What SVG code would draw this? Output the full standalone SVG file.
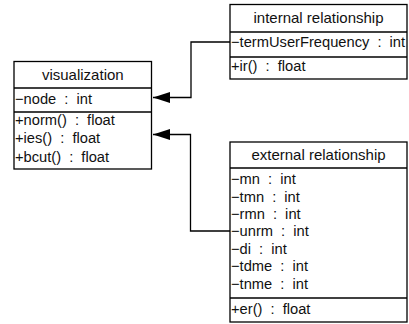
<svg xmlns="http://www.w3.org/2000/svg" width="409" height="324" viewBox="0 0 409 324">
<style>
.box{fill:#fff;stroke:#000;stroke-width:1.3}
.ln{stroke:#000;stroke-width:1.3;fill:none}
text{font-family:"Liberation Sans","Noto Sans CJK KR",sans-serif;font-size:14.7px;fill:#111;word-spacing:4px}
.t{font-size:15px;text-anchor:middle;word-spacing:0}
</style>
<defs>
<marker id="tri" markerWidth="18" markerHeight="12" refX="17" refY="6" orient="auto" markerUnits="userSpaceOnUse">
<path d="M0,0.5 L17,6 L0,11.5 Z" fill="#000"/>
</marker>
</defs>
<g id="connectors">
<path class="ln" d="M230,42 H191 V97.5 H153" marker-end="url(#tri)"/>
<path class="ln" d="M230,231 H190.5 V134.5 H153" marker-end="url(#tri)"/>
</g>
<g id="visualization">
<rect class="box" x="14" y="61.5" width="137.5" height="107.5"/>
<line class="ln" x1="14" y1="88" x2="151.5" y2="88"/>
<line class="ln" x1="14" y1="112" x2="151.5" y2="112"/>
<text class="t" x="82.8" y="80">visualization</text>
<text x="15" y="104">−node : int</text>
<text x="15" y="125">+norm() : float</text>
<text x="15" y="143">+ies() : float</text>
<text x="15" y="162">+bcut() : float</text>
</g>
<g id="internal">
<rect class="box" x="230" y="4.5" width="177" height="74.5"/>
<line class="ln" x1="230" y1="32" x2="407" y2="32"/>
<line class="ln" x1="230" y1="57" x2="407" y2="57"/>
<text class="t" x="318.5" y="23">internal relationship</text>
<text x="231" y="47">−termUserFrequency : int</text>
<text x="231" y="71">+ir() : float</text>
</g>
<g id="external">
<rect class="box" x="230" y="142" width="177" height="180"/>
<line class="ln" x1="230" y1="168" x2="407" y2="168"/>
<line class="ln" x1="230" y1="298" x2="407" y2="298"/>
<text class="t" x="318.5" y="160">external relationship</text>
<text x="231" y="184">−mn : int</text>
<text x="231" y="202">−tmn : int</text>
<text x="231" y="219">−rmn : int</text>
<text x="231" y="236">−unrm : int</text>
<text x="231" y="254">−di : int</text>
<text x="231" y="271">−tdme : int</text>
<text x="231" y="289">−tnme : int</text>
<text x="231" y="314">+er() : float</text>
</g>
</svg>
